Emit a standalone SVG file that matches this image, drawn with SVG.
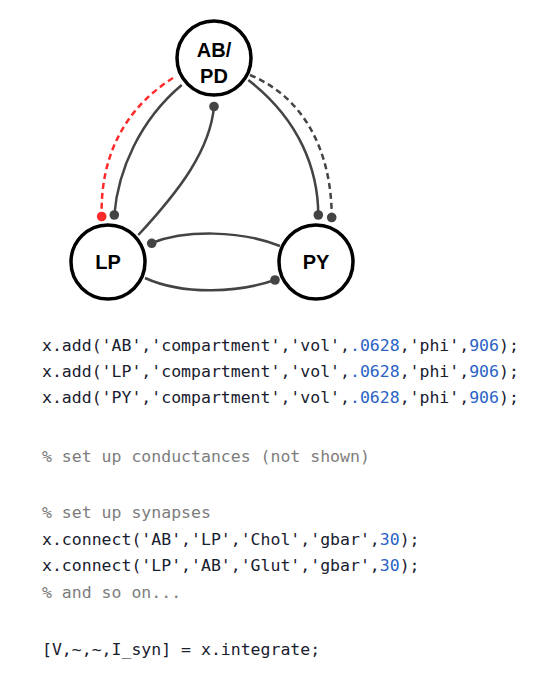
<svg xmlns="http://www.w3.org/2000/svg" width="541" height="692" viewBox="0 0 541 692">
<style>
.node{fill:#fff;stroke:#000;stroke-width:3.5}
.lbl{font-family:"Liberation Sans",Arial,sans-serif;font-weight:bold;font-size:20px;fill:#000;text-anchor:middle}
.e{fill:none;stroke:#444;stroke-width:2.5}
.dash{stroke-dasharray:6,4}
.red{stroke:#ff2a2a}
.dot{fill:#444}
.rdot{fill:#ff2a2a}
.code{font-family:"DejaVu Sans Mono","Liberation Mono",monospace;font-size:16.5px;fill:#18202f}
.n{fill:#2a63c4}
.c{fill:#7d7d7d}
</style>
<rect width="541" height="692" fill="#fff"/>
<g id="connectors">
<path class="e dash red" d="M173,78 C130,105 100,150 101.7,216"/>
<circle class="rdot" cx="101.7" cy="216.5" r="4.8"/>
<path class="e" d="M181.7,85 C140,120 118,170 114.3,215"/>
<circle class="dot" cx="114.3" cy="215" r="4.8"/>
<path class="e" d="M138.3,235 C180,190 210,150 214,106.7"/>
<circle class="dot" cx="214" cy="106.5" r="4.8"/>
<path class="e" d="M248.3,80 C300,120 318,170 318.3,215"/>
<circle class="dot" cx="318.3" cy="215" r="4.8"/>
<path class="e dash" d="M250,75 C310,100 332,160 331.7,218"/>
<circle class="dot" cx="331.7" cy="217.5" r="4.8"/>
<path class="e" d="M280,246 C240,230 185,230 151.7,243"/>
<circle class="dot" cx="151.7" cy="243.3" r="4.8"/>
<path class="e" d="M145,278 C185,296 240,292 275,280"/>
<circle class="dot" cx="275" cy="280" r="4.8"/>
</g>
<g id="ABPD">
<circle class="node" cx="214" cy="58" r="37"/>
<text class="lbl" x="214" y="57">AB/</text>
<text class="lbl" x="214" y="82.5">PD</text>
</g>
<g id="LP">
<circle class="node" cx="108" cy="262" r="37"/>
<text class="lbl" x="108" y="269">LP</text>
</g>
<g id="PY">
<circle class="node" cx="316" cy="262" r="37"/>
<text class="lbl" x="316" y="269">PY</text>
</g>
<g id="code" class="code">
<text x="42" y="351">x.add('AB','compartment','vol',<tspan class="n">.0628</tspan>,'phi',<tspan class="n">906</tspan>);</text>
<text x="42" y="377">x.add('LP','compartment','vol',<tspan class="n">.0628</tspan>,'phi',<tspan class="n">906</tspan>);</text>
<text x="42" y="403">x.add('PY','compartment','vol',<tspan class="n">.0628</tspan>,'phi',<tspan class="n">906</tspan>);</text>
<text x="42" y="462" class="c">% set up conductances (not shown)</text>
<text x="42" y="518" class="c">% set up synapses</text>
<text x="42" y="545">x.connect('AB','LP','Chol','gbar',<tspan class="n">30</tspan>);</text>
<text x="42" y="571">x.connect('LP','AB','Glut','gbar',<tspan class="n">30</tspan>);</text>
<text x="42" y="598" class="c">% and so on...</text>
<text x="42" y="655">[V,~,~,I_syn] = x.integrate;</text>
</g>
</svg>
